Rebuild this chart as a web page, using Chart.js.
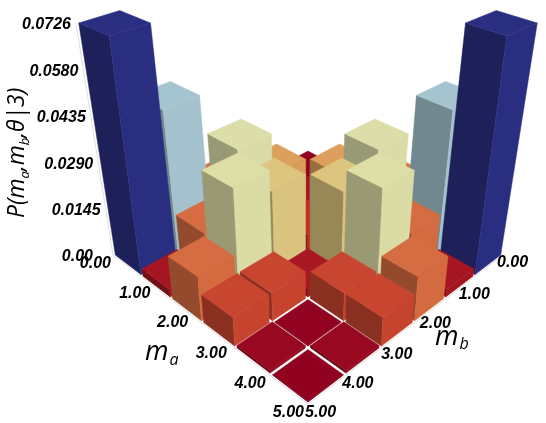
<!DOCTYPE html>
<html>
<head>
<meta charset="utf-8">
<title>P(ma, mb, theta | 3)</title>
<style>
  html, body { margin: 0; padding: 0; background: #fff; }
  canvas { display: block; }
</style>
<script src="https://cdn.jsdelivr.net/npm/chart.js@4/dist/chart.umd.min.js"></script>
</head>
<body>
<canvas id="myChart" width="546" height="423"></canvas>
<script>
/* DATA */

const maTicks = ['0.00', '1.00', '2.00', '3.00', '4.00', '5.00'];
const mbTicks = ['0.00', '1.00', '2.00', '3.00', '4.00', '5.00'];
const zTicks = [0, 0.0145, 0.029, 0.0435, 0.058, 0.0726];
const zTickLabels = ['0.00', '0.0145', '0.0290', '0.0435', '0.0580', '0.0726'];

// one row per mb bin, one entry per ma bin
const pMb0 = [0.0001, 0.0022, 0.0073, 0.0135, 0.0450, 0.0726];
const pMb1 = [0.0022, 0.0022, 0.0189, 0.0326, 0.0125, 0.0022];
const pMb2 = [0.0073, 0.0189, 0.0058, 0.0252, 0.0322, 0.0125];
const pMb3 = [0.0135, 0.0326, 0.0252, 0.0025, 0.0079, 0.0079];
const pMb4 = [0.0450, 0.0125, 0.0322, 0.0079, 0.0002, 0.0007];
const pMb5 = [0.0726, 0.0022, 0.0125, 0.0079, 0.0007, 0.0001];
const pRows = [pMb0, pMb1, pMb2, pMb3, pMb4, pMb5];

// RdYlBu, reversed
const colorStops = ['#a50026', '#d73027', '#f46d43', '#fdae61', '#fee090', '#ffffbf',
  '#e0f3f8', '#abd9e9', '#74add1', '#4575b4', '#313695'];

/* VIEW */

const zMax = 0.0726;
const binSize = 5 / 6;
const binGap = 0.03;

// camera fitted to the ground corners and the z axis
function project(ma, mb, p) {
  const w = p / zMax;
  const q = ma + mb - 5;
  const d = 1 - 0.035 * q;
  return {
    x: 308 + 39 * (ma - mb) / d * (1 + 0.19 * w),
    y: (255 + 15.7 * q - 232 * w) / d
  };
}

function shade(value, factor) {
  const t = Math.pow(Math.min(value / zMax, 1), 0.85) * (colorStops.length - 1);
  const i = Math.min(Math.floor(t), colorStops.length - 2);
  const rgb = [1, 3, 5].map(function (k) {
    const a = parseInt(colorStops[i].substr(k, 2), 16);
    const b = parseInt(colorStops[i + 1].substr(k, 2), 16);
    return Math.round((a + (b - a) * (t - i)) * factor);
  });
  return 'rgb(' + rgb.join(',') + ')';
}

function face(points, color) {
  return {
    data: points.concat([points[0]]),
    showLine: true,
    fill: 'shape',
    backgroundColor: color,
    borderColor: color,
    borderWidth: 0.5,
    pointRadius: 0,
    clip: false
  };
}

function axisLine(points) {
  return {
    data: points,
    showLine: true,
    borderColor: '#dedede',
    borderWidth: 1,
    pointRadius: 0,
    clip: false
  };
}

/* BARS */

// first dataset is painted last, so the nearest bins go first
const bins = [];
pRows.forEach(function (row, b) {
  row.forEach(function (value, a) {
    bins.push({ a: a, b: b, value: value });
  });
});
bins.sort(function (m, n) { return (n.a + n.b) - (m.a + m.b); });

const datasets = [];
bins.forEach(function (bin) {
  const ma0 = bin.a * binSize + binGap;
  const ma1 = (bin.a + 1) * binSize - binGap;
  const mb0 = bin.b * binSize + binGap;
  const mb1 = (bin.b + 1) * binSize - binGap;
  const h = bin.value;
  datasets.push(face([project(ma0, mb1, h), project(ma1, mb1, h), project(ma1, mb0, h), project(ma0, mb0, h)], shade(h, 0.87)));
  datasets.push(face([project(ma1, mb1, 0), project(ma1, mb0, 0), project(ma1, mb0, h), project(ma1, mb1, h)], shade(h, 0.86)));
  datasets.push(face([project(ma0, mb1, 0), project(ma1, mb1, 0), project(ma1, mb1, h), project(ma0, mb1, h)], shade(h, 0.6)));
});

datasets.push(axisLine([project(0, 5, 0), project(5, 5, 0), project(5, 0, 0)]));
datasets.push(axisLine([project(0, 5, 0), project(0, 5, zMax)]));

/* TEXT */

const maNudge = [[-2, 9], [4, 13], [6, 15], [6, 16], [3, 14], [-4, 8]];
const mbNudge = [[-6, 8], [-11, 14], [-14, 16], [-14, 17], [-11, 14], [-3, 8]];
const tickFont = 'italic bold 16px "Liberation Sans"';
const mathFont = '"Open Sans"';

function drawRun(ctx, parts) {
  let x = 0;
  parts.forEach(function (part) {
    ctx.font = 'italic ' + part.size + 'px ' + mathFont;
    ctx.fillText(part.text, x, part.drop || 0);
    x += ctx.measureText(part.text).width + (part.space || 0);
  });
}

const axisText = {
  id: 'axisText',
  afterDatasetsDraw: function (chart) {
    const ctx = chart.ctx;
    const sx = chart.scales.x;
    const sy = chart.scales.y;
    function place(pt) {
      return { x: sx.getPixelForValue(pt.x), y: sy.getPixelForValue(pt.y) };
    }

    ctx.save();
    ctx.fillStyle = '#000';
    ctx.textBaseline = 'middle';
    ctx.font = tickFont;

    ctx.textAlign = 'right';
    zTicks.forEach(function (value, i) {
      const pos = place(project(0, 5, value));
      ctx.fillText(zTickLabels[i], pos.x - (value === 0 ? 20 : 5), pos.y + 2);
    });
    maTicks.forEach(function (label, i) {
      const pos = place(project(i, 5, 0));
      ctx.fillText(label, pos.x + maNudge[i][0], pos.y + maNudge[i][1]);
    });

    ctx.textAlign = 'left';
    mbTicks.forEach(function (label, i) {
      const pos = place(project(5, i, 0));
      ctx.fillText(label, pos.x + mbNudge[i][0], pos.y + mbNudge[i][1]);
    });

    ctx.textBaseline = 'alphabetic';
    ctx.save();
    ctx.translate(145, 360);
    drawRun(ctx, [{ text: 'm', size: 27, space: 1 }, { text: 'a', size: 16, drop: 5 }]);
    ctx.restore();

    ctx.save();
    ctx.translate(435, 345);
    drawRun(ctx, [{ text: 'm', size: 27, space: 1 }, { text: 'b', size: 16, drop: 4 }]);
    ctx.restore();

    ctx.save();
    ctx.translate(24, 218);
    ctx.rotate(-Math.PI / 2);
    drawRun(ctx, [
      { text: 'P(', size: 23 },
      { text: 'm', size: 23 },
      { text: 'a', size: 13, drop: 5 },
      { text: ',', size: 23 },
      { text: 'm', size: 23 },
      { text: 'b', size: 13, drop: 5 },
      { text: ',', size: 23 },
      { text: '\u03b8', size: 23 },
      { text: '|', size: 23 },
      { text: '3)', size: 23 }
    ]);
    ctx.restore();
    ctx.restore();
  }
};

/* CHART */

var ctx = document.getElementById('myChart').getContext('2d');

var chart = new Chart(ctx, {
  type: 'scatter',
  data: { datasets: datasets },
  options: {
    responsive: false,
    animation: false,
    layout: { padding: 0 },
    plugins: { legend: { display: false }, tooltip: { enabled: false } },
    scales: {
      x: { type: 'linear', display: false, min: 0, max: 546 },
      y: { type: 'linear', display: false, min: 0, max: 423, reverse: true }
    }
  },
  plugins: [axisText]
});
</script>
</body>
</html>
